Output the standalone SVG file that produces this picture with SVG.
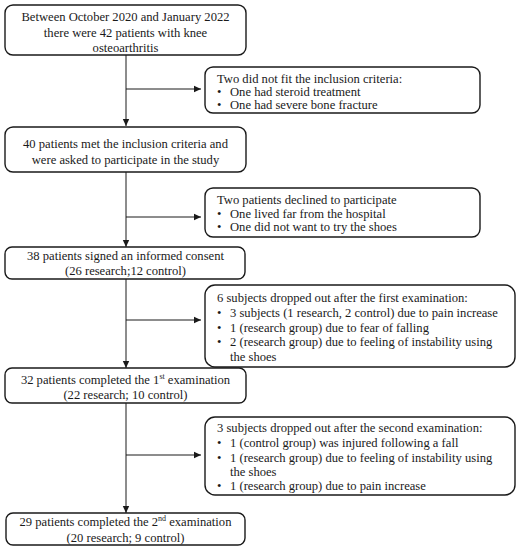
<svg xmlns="http://www.w3.org/2000/svg" width="523" height="550" viewBox="0 0 523 550">
<defs>
<marker id="ah" markerWidth="8" markerHeight="8" refX="7" refY="4" orient="auto" markerUnits="userSpaceOnUse">
<path d="M0,0.8 L7,4 L0,7.2 Z" fill="#1a1a1a"/>
</marker>
</defs>
<style>
.box{fill:#fff;stroke:#1a1a1a;stroke-width:1.4}
.t{font-family:"Liberation Serif","Times New Roman",serif;font-size:12.6px;fill:#1a1a1a}
.c{text-anchor:middle}
.ln{stroke:#1a1a1a;stroke-width:1;fill:none}
.sup{font-size:8px}
</style>
<rect width="523" height="550" fill="#fff"/>
<g id="connectors">
<line class="ln" x1="126" y1="55" x2="126" y2="126" marker-end="url(#ah)"/>
<line class="ln" x1="126" y1="89" x2="201" y2="89" marker-end="url(#ah)"/>
<line class="ln" x1="126" y1="172" x2="126" y2="247" marker-end="url(#ah)"/>
<line class="ln" x1="126" y1="217" x2="201" y2="217" marker-end="url(#ah)"/>
<line class="ln" x1="126" y1="274" x2="126" y2="368" marker-end="url(#ah)"/>
<line class="ln" x1="126" y1="320" x2="201" y2="320" marker-end="url(#ah)"/>
<line class="ln" x1="126" y1="403" x2="126" y2="513" marker-end="url(#ah)"/>
<line class="ln" x1="126" y1="455" x2="201" y2="455" marker-end="url(#ah)"/>
</g>
<g id="n1">
<rect class="box" x="5" y="5" width="241" height="50" rx="8"/>
<text class="t c" x="125.5" y="20.5">Between October 2020 and January 2022</text>
<text class="t c" x="125.5" y="36.5">there were 42 patients with knee</text>
<text class="t c" x="125.5" y="52">osteoarthritis</text>
</g>
<g id="n2">
<rect class="box" x="205" y="67" width="275" height="46" rx="8"/>
<text class="t" x="217" y="83">Two did not fit the inclusion criteria:</text>
<text class="t" x="217" y="96">•</text><text class="t" x="230" y="96">One had steroid treatment</text>
<text class="t" x="217" y="108.5">•</text><text class="t" x="230" y="108.5">One had severe bone fracture</text>
</g>
<g id="n3">
<rect class="box" x="5" y="127" width="241" height="45" rx="8"/>
<text class="t c" x="125.5" y="147.5">40 patients met the inclusion criteria and</text>
<text class="t c" x="125.5" y="163.5">were asked to participate in the study</text>
</g>
<g id="n4">
<rect class="box" x="205" y="188" width="275" height="49" rx="8"/>
<text class="t" x="217" y="204">Two patients declined to participate</text>
<text class="t" x="217" y="217.5">•</text><text class="t" x="230" y="217.5">One lived far from the hospital</text>
<text class="t" x="217" y="231">•</text><text class="t" x="230" y="231">One did not want to try the shoes</text>
</g>
<g id="n5">
<rect class="box" x="5" y="247" width="240" height="32" rx="7"/>
<text class="t c" x="125.5" y="259.5">38 patients signed an informed consent</text>
<text class="t c" x="125.5" y="275">(26 research;12 control)</text>
</g>
<g id="n6">
<rect class="box" x="205" y="285" width="310" height="82" rx="10"/>
<text class="t" x="217" y="302">6 subjects dropped out after the first examination:</text>
<text class="t" x="217" y="317">•</text><text class="t" x="230" y="317">3 subjects (1 research, 2 control) due to pain increase</text>
<text class="t" x="217" y="331.5">•</text><text class="t" x="230" y="331.5">1 (research group) due to fear of falling</text>
<text class="t" x="217" y="346">•</text><text class="t" x="230" y="346">2 (research group) due to feeling of instability using</text>
<text class="t" x="230" y="360.5">the shoes</text>
</g>
<g id="n7">
<rect class="box" x="5" y="368" width="241" height="35" rx="7"/>
<text class="t c" x="125.5" y="384">32 patients completed the 1<tspan class="sup" dy="-5">st</tspan><tspan dy="5"> examination</tspan></text>
<text class="t c" x="125.5" y="399">(22 research; 10 control)</text>
</g>
<g id="n8">
<rect class="box" x="205" y="417" width="310" height="78" rx="10"/>
<text class="t" x="217" y="432">3 subjects dropped out after the second examination:</text>
<text class="t" x="217" y="447">•</text><text class="t" x="230" y="447">1 (control group) was injured following a fall</text>
<text class="t" x="217" y="462">•</text><text class="t" x="230" y="462">1 (research group) due to feeling of instability using</text>
<text class="t" x="230" y="476">the shoes</text>
<text class="t" x="217" y="490">•</text><text class="t" x="230" y="490">1 (research group) due to pain increase</text>
</g>
<g id="n9">
<rect class="box" x="6" y="513" width="239" height="32" rx="7"/>
<text class="t c" x="125.5" y="526">29 patients completed the 2<tspan class="sup" dy="-5">nd</tspan><tspan dy="5"> examination</tspan></text>
<text class="t c" x="125.5" y="541.5">(20 research; 9 control)</text>
</g>
</svg>
